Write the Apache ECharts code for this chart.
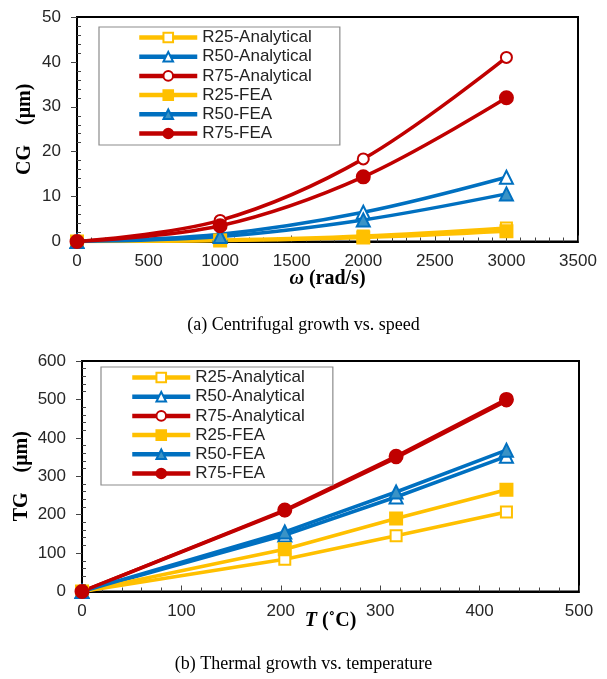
<!DOCTYPE html>
<html>
<head>
<meta charset="utf-8">
<script src="https://cdn.jsdelivr.net/npm/echarts@6/dist/echarts.min.js"></script>
<style>
html,body{margin:0;padding:0;background:#fff;}
#c{width:607px;height:679px;}
</style>
</head>
<body>
<div id="c"></div>
<script>
// ---- Data (a) Centrifugal growth vs. speed ----
var cgSpeed = [0, 1000, 2000, 3000];
var cgR25Analytical = [0, 0.3, 1.2, 3.0];
var cgR50Analytical = [0, 1.6, 6.5, 14.3];
var cgR75Analytical = [0, 4.7, 18.4, 41.0];
var cgR25FEA = [0, 0.2, 0.9, 2.3];
var cgR50FEA = [0, 1.1, 4.8, 10.6];
var cgR75FEA = [0, 3.5, 14.4, 32.0];

// ---- Data (b) Thermal growth vs. temperature ----
var tgTemp = [0, 204, 316, 427];
var tgR25Analytical = [0, 84, 145, 207];
var tgR50Analytical = [0, 147, 246, 352];
var tgR75Analytical = [0, 210, 348, 496];
var tgR25FEA = [0, 110, 190, 265];
var tgR50FEA = [0, 155, 259, 368];
var tgR75FEA = [0, 212, 352, 500];

var seriesNames = ['R25-Analytical', 'R50-Analytical', 'R75-Analytical', 'R25-FEA', 'R50-FEA', 'R75-FEA'];
var captionA = '(a) Centrifugal growth vs. speed';
var captionB = '(b) Thermal growth vs. temperature';

var YEL = '#FFC000', BLU = '#0070C0', RED = '#C00000';
var styles = {
  'R25-Analytical': {color: YEL, symbol: 'rect', fill: '#fff', size: 11},
  'R50-Analytical': {color: BLU, symbol: 'triangle', fill: '#fff', size: 13},
  'R75-Analytical': {color: RED, symbol: 'circle', fill: '#fff', size: 11},
  'R25-FEA': {color: YEL, symbol: 'rect', fill: YEL, size: 12},
  'R50-FEA': {color: BLU, symbol: 'triangle', fill: '#3A93C6', size: 13},
  'R75-FEA': {color: RED, symbol: 'circle', fill: RED, size: 13}
};

function zip(xs, ys) { return xs.map(function (x, i) { return [x, ys[i]]; }); }

function mkSeries(name, xs, ys, gi, smooth) {
  var s = styles[name];
  return {
    name: name, type: 'line', xAxisIndex: gi, yAxisIndex: gi,
    data: zip(xs, ys), smooth: smooth ? 0.35 : false,
    symbol: s.symbol, symbolSize: s.size, showAllSymbol: true,
    lineStyle: {color: s.color, width: 3.5},
    itemStyle: {color: s.fill, borderColor: s.color, borderWidth: 2},
    emphasis: {disabled: true}, animation: false, z: 3
  };
}

var cgData = [cgR25Analytical, cgR50Analytical, cgR75Analytical, cgR25FEA, cgR50FEA, cgR75FEA];
var tgData = [tgR25Analytical, tgR50Analytical, tgR75Analytical, tgR25FEA, tgR50FEA, tgR75FEA];

var series = [];
seriesNames.forEach(function (n, i) { series.push(mkSeries(n, cgSpeed, cgData[i], 0, true)); });
seriesNames.forEach(function (n, i) { series.push(mkSeries(n, tgTemp, tgData[i], 1, false)); });

var SANS = 'Liberation Sans';
var SERIF = 'Liberation Serif';
var labelStyle = {color: '#262626', fontFamily: SANS, fontSize: 17, formatter: function (v) { return String(v); }};

function xAx(gi, max, interval, name, gap) {
  return {
    type: 'value', gridIndex: gi, min: 0, max: max, interval: interval,
    axisLine: {show: true, onZero: false, lineStyle: {color: '#000', width: 2}},
    axisTick: {show: true, inside: true, length: 6, lineStyle: {color: '#444', width: 1}},
    minorTick: {show: true, splitNumber: 5, length: 4, lineStyle: {color: '#444', width: 1}},
    splitLine: {show: false},
    axisLabel: Object.assign({margin: 11}, labelStyle),
    name: name, nameLocation: 'middle', nameGap: gap, nameMoveOverlap: false,
    nameTextStyle: {
      fontFamily: SERIF, fontSize: 20, fontWeight: 'bold', color: '#000',
      rich: {
        i: {fontFamily: SERIF, fontSize: 20, fontWeight: 'bold', fontStyle: 'italic', color: '#000'},
        b: {fontFamily: SERIF, fontSize: 20, fontWeight: 'bold', color: '#000'}
      }
    }
  };
}
function yAx(gi, max, interval, name, gap) {
  return {
    type: 'value', gridIndex: gi, min: 0, max: max, interval: interval,
    axisLine: {show: true, onZero: false, lineStyle: {color: '#000', width: 2}},
    axisTick: {show: true, inside: false, length: 6, lineStyle: {color: '#444', width: 1}},
    minorTick: {show: true, splitNumber: 5, length: -4, lineStyle: {color: '#444', width: 1}},
    splitLine: {show: false},
    axisLabel: Object.assign({margin: 16}, labelStyle),
    name: name, nameLocation: 'middle', nameGap: gap, nameMoveOverlap: false,
    nameTextStyle: {fontFamily: SERIF, fontSize: 20, fontWeight: 'bold', color: '#000'}
  };
}
function legend(left, top, padLeft) {
  return {
    show: true, data: seriesNames, orient: 'vertical', left: left, top: top,
    itemWidth: 58, itemHeight: 12, itemGap: 2.2,
    padding: [2, 28, 3, padLeft],
    backgroundColor: '#fff', borderColor: '#8c8c8c', borderWidth: 1.2,
    lineStyle: {width: 4.5},
    textStyle: {color: '#222', fontFamily: SANS, fontSize: 17, lineHeight: 16},
    selectedMode: false
  };
}

var chart = echarts.init(document.getElementById('c'), null, {renderer: 'canvas'});
chart.setOption({
  backgroundColor: '#fff',
  animation: false,
  title: [
    {text: captionA, left: 'center', top: 311, textStyle: {fontFamily: SERIF, fontSize: 18, fontWeight: 'normal', color: '#000'}},
    {text: captionB, left: 'center', top: 650, textStyle: {fontFamily: SERIF, fontSize: 18, fontWeight: 'normal', color: '#000'}}
  ],
  grid: [
    {left: 77, top: 17, width: 501, height: 224.5, show: true, borderColor: '#000', borderWidth: 2, backgroundColor: 'transparent', containLabel: false},
    {left: 82, top: 361, width: 497, height: 230.5, show: true, borderColor: '#000', borderWidth: 2, backgroundColor: 'transparent', containLabel: false}
  ],
  xAxis: [
    xAx(0, 3500, 500, '{i|ω} {b|(rad/s)}', 27),
    xAx(1, 500, 100, '{i|T} {b|(˚C)}', 19)
  ],
  yAxis: [
    yAx(0, 50, 10, 'CG    (μm)', 42),
    yAx(1, 600, 100, 'TG    (μm)', 50)
  ],
  legend: [legend(99, 27, 38), legend(101, 367, 29)],
  series: series
});
</script>
</body>
</html>
